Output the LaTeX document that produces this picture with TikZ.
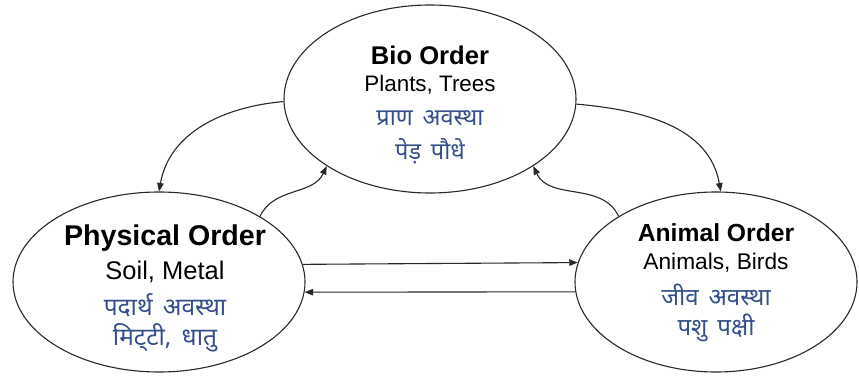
\documentclass[tikz,border=0pt]{standalone}
\usepackage{fontspec}
\setmainfont{Liberation Sans}
\newfontfamily\deva[Script=Devanagari,WordSpace=1.6]{Noto Sans}
\usetikzlibrary{shapes.geometric,arrows.meta}
\definecolor{hindiblue}{RGB}{52,78,140}
\definecolor{edge}{RGB}{40,40,40}
\tikzset{
  order/.style={draw=edge,line width=1.1pt,ellipse,inner sep=0pt},
  title/.style={font=\bfseries\fontsize{#1}{#1}\selectfont,inner sep=0pt},
  sub/.style={font=\fontsize{#1}{#1}\selectfont,inner sep=0pt},
  hindi/.style={font=\deva\fontsize{#1}{#1}\selectfont,text=hindiblue,inner sep=0pt},
  flow/.style={draw=edge,line width=1.1pt,-{Triangle[length=8.5pt,width=6.5pt]}}
}
\begin{document}
\begin{tikzpicture}[x=1pt,y=1pt]
\useasboundingbox (0,0) rectangle (859,375);

% the three orders
\node[order,minimum width=292pt,minimum height=188pt] (bio)  at (430,276) {};
\node[order,minimum width=292pt,minimum height=180pt] (phys) at (159,93) {};
\node[order,minimum width=282pt,minimum height=180pt] (anim) at (716,93) {};

% Bio order text
\node[title=25.6] (bioT) at (430,320) {Bio Order};
\node[sub=22.4]   (bioS) at (430,290) {Plants, Trees};
\node[hindi=23.5] (bioH1) at (430,257) {प्राण अवस्था};
\node[hindi=23.5] (bioH2) at (430,224) {पेड़ पौधे};

% Physical order text
\node[title=28.6] (physT) at (165,137) {Physical Order};
\node[sub=25.5]   (physS) at (165,103) {Soil, Metal};
\node[hindi=24.5] (physH1) at (165,70) {पदार्थ अवस्था};
\node[hindi=24.5] (physH2) at (165,37) {मिट्‌टी, धातु};

% Animal order text
\node[title=24.7] (animT) at (716,142) {Animal Order};
\node[sub=22.7]   (animS) at (716,112) {Animals, Birds};
\node[hindi=24]   (animH1) at (716,80) {जीव अवस्था};
\node[hindi=24]   (animH2) at (716,47) {पशु पक्षी};

% connectors between the orders
\draw[flow] (bio.181) to[out=185,in=80] (phys.90);
\draw[flow] (bio.-2) to[out=-5,in=100] (anim.87);
\draw[flow] (phys.33) to[out=65,in=245] (bio.213);
\draw[flow] (anim.146) to[out=115,in=-65] (bio.-33);
\draw[flow] (phys.7.6) -- (anim.172.1);
\draw[flow] (anim.184.5) -- (phys.-4.3);
\end{tikzpicture}
\end{document}
